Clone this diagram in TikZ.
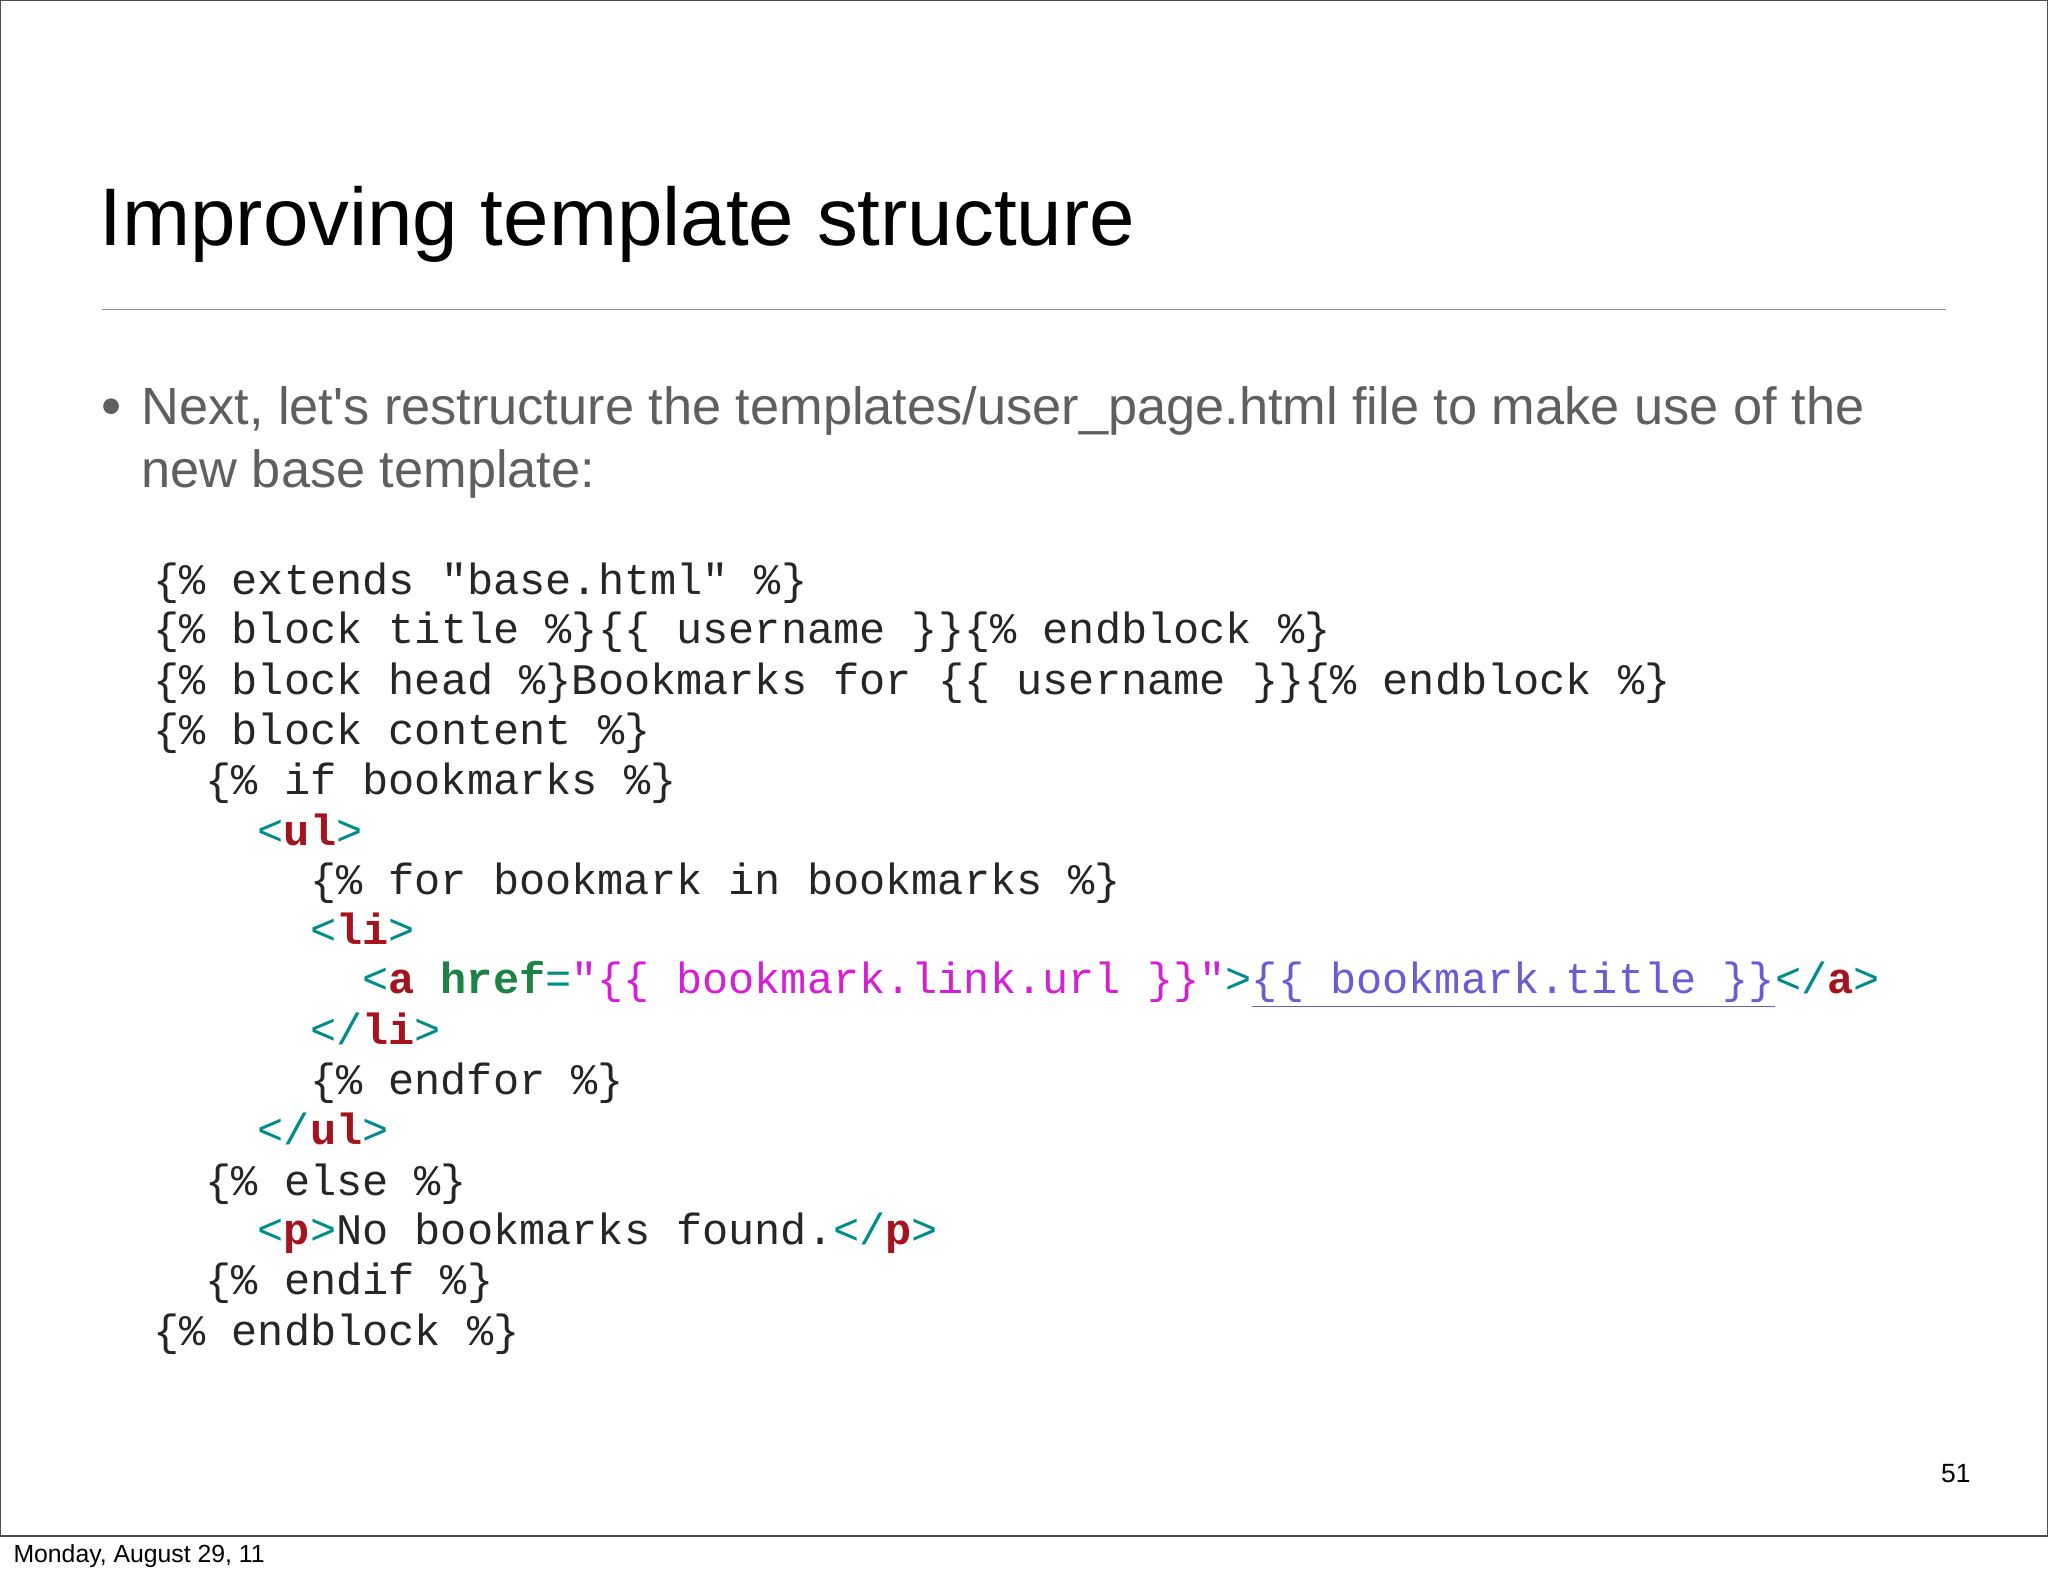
\documentclass[tikz,border=0pt]{standalone}
\usepackage{fontspec}
\setmainfont{Liberation Sans}
\setmonofont{Liberation Mono}
\definecolor{tg}{RGB}{0,140,140}
\definecolor{tn}{RGB}{165,20,30}
\definecolor{hr}{RGB}{30,130,70}
\definecolor{mg}{RGB}{215,30,215}
\definecolor{lk}{RGB}{110,90,210}
\definecolor{bt}{RGB}{95,95,95}
\newcommand{\T}[1]{\textcolor{tg}{#1}}
\newcommand{\N}[1]{\textcolor{tn}{\bfseries #1}}
\tikzset{code/.style={anchor=base west,inner sep=0pt,font=\ttfamily\fontsize{19}{22}\selectfont,text=black!85}}
\begin{document}
\begin{tikzpicture}[x=0.02cm,y=-0.02cm]
\useasboundingbox (0,0) rectangle (1568,1207);
\fill[white] (0,0) rectangle (1568,1207);
\draw[black!70,line width=0.6pt] (0.5,0.5) rectangle (1567.5,1176);
\node[anchor=base west,inner sep=0pt,font=\fontsize{35.6}{40}\selectfont] (title) at (76,188) {Improving template structure};
\draw[black!45,line width=0.8pt] (78,237) -- (1490,237);
\fill[bt] (85,311) circle (6);
\node[anchor=base west,inner sep=0pt,text=bt,font=\fontsize{22.8}{27}\selectfont] (b1) at (108,325) {Next, let\textquotesingle s restructure the templates/user\_page.html file to make use of the};
\node[anchor=base west,inner sep=0pt,text=bt,font=\fontsize{22.8}{27}\selectfont] (b2) at (108,373) {new base template:};
\node[code] (l1) at (117,455) {\{\% extends "base.html" \%\}};
\node[code] (l2) at (117,493) {\{\% block title \%\}\{\{ username \}\}\{\% endblock \%\}};
\node[code] (l3) at (117,532) {\{\% block head \%\}Bookmarks for \{\{ username \}\}\{\% endblock \%\}};
\node[code] (l4) at (117,570) {\{\% block content \%\}};
\node[code] (l5) at (157,608) {\{\% if bookmarks \%\}};
\node[code] (l6) at (197,647) {\T{<}\N{ul}\T{>}};
\node[code] (l7) at (237,685) {\{\% for bookmark in bookmarks \%\}};
\node[code] (l8) at (237,723) {\T{<}\N{li}\T{>}};
\node[code] (l9) at (277,761) {\T{<}\N{a} \textcolor{hr}{\bfseries href}\T{=}\textcolor{mg}{"\{\{ bookmark.link.url \}\}"}\T{>}\textcolor{lk}{\underline{\{\{ bookmark.title \}\}}}\T{</}\N{a}\T{>}};
\node[code] (l10) at (237,800) {\T{</}\N{li}\T{>}};
\node[code] (l11) at (237,838) {\{\% endfor \%\}};
\node[code] (l12) at (197,876) {\T{</}\N{ul}\T{>}};
\node[code] (l13) at (157,915) {\{\% else \%\}};
\node[code] (l14) at (197,953) {\T{<}\N{p}\T{>}No bookmarks found.\T{</}\N{p}\T{>}};
\node[code] (l15) at (157,991) {\{\% endif \%\}};
\node[code] (l16) at (117,1030) {\{\% endblock \%\}};
\node[anchor=base east,inner sep=0pt,font=\fontsize{11.5}{14}\selectfont] (pg) at (1509,1135) {51};
\node[anchor=base west,inner sep=0pt,font=\fontsize{10.8}{12}\selectfont] (ft) at (10,1196) {Monday, August 29, 11};
\end{tikzpicture}
\end{document}
